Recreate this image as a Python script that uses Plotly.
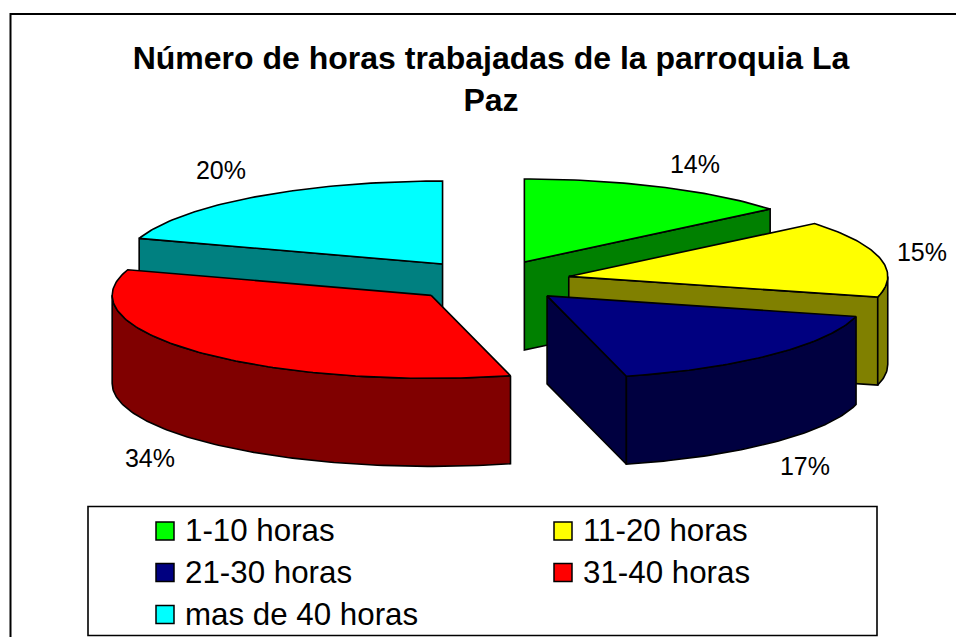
import math
import plotly.graph_objects as go

# ---- data ----
categories = ["1-10 horas", "11-20 horas", "21-30 horas", "31-40 horas", "mas de 40 horas"]
percentages = [14, 15, 17, 34, 20]
title_text = "Número de horas trabajadas de la parroquia La<br>Paz"

# ---- style ----
top_colors = ["#00FF00", "#FFFF00", "#000080", "#FF0000", "#00FFFF"]
wall_colors = ["#008000", "#808000", "#000040", "#800000", "#008080"]
draw_order = [4, 0, 1, 2, 3]
FONT = "Liberation Sans, Arial, sans-serif"

# ---- projection of the tilted pie on to the page ----
CX, CY = 490.0, 281.0
RX, RY = 319.0, 83.0
DEPTH = 88.0
EXPLODE = 0.253
label_xy = [(695, 167), (922, 255), (805, 469), (150, 461), (221, 173)]
legend_xy = [(165, 531), (563, 531), (165, 572.5), (563, 572.5), (165, 614.5)]
TEXT_GAP = 20
TEXT_DROP = 2.5


def rim(apex, deg):
    t = math.radians(deg)
    return apex[0] + RX * math.sin(t), apex[1] - RY * math.cos(t)


def arc(apex, a0, a1):
    n = max(2, int(abs(a1 - a0)) + 1)
    return [rim(apex, a0 + (a1 - a0) * i / (n - 1)) for i in range(n)]


def add_poly(fig, pts, color, name):
    xs = [p[0] for p in pts] + [pts[0][0]]
    ys = [p[1] for p in pts] + [pts[0][1]]
    fig.add_trace(go.Scatter(x=xs, y=ys, mode="lines", fill="toself", fillcolor=color,
                             line=dict(color="black", width=1.6), name=name,
                             hoverinfo="name", showlegend=False))


def add_radial_wall(fig, apex, deg, color, name):
    p = rim(apex, deg)
    add_poly(fig, [apex, p, (p[0], p[1] + DEPTH), (apex[0], apex[1] + DEPTH)], color, name)


fig = go.Figure()
total = sum(percentages)
bounds = [0.0]
for val in percentages:
    bounds.append(bounds[-1] + 360.0 * val / total)

for i in draw_order:
    cat = categories[i]
    a0, a1 = bounds[i], bounds[i + 1]
    mid = math.radians((a0 + a1) / 2)
    apex = (CX + EXPLODE * RX * math.sin(mid), CY - EXPLODE * RY * math.cos(mid))
    # walls that face the viewer
    if math.sin(math.radians(a0)) < -1e-9:
        add_radial_wall(fig, apex, a0, wall_colors[i], cat)
    if math.sin(math.radians(a1)) > 1e-9:
        add_radial_wall(fig, apex, a1, wall_colors[i], cat)
    lo, hi = max(a0, 90.0), min(a1, 270.0)
    if hi > lo:
        edge = arc(apex, lo, hi)
        add_poly(fig, edge + [(x, y + DEPTH) for x, y in reversed(edge)], wall_colors[i], cat)
    # top face
    add_poly(fig, [apex] + arc(apex, a0, a1), top_colors[i], cat)

# percentage labels
fig.add_trace(go.Scatter(x=[p[0] for p in label_xy], y=[p[1] for p in label_xy], mode="text",
                         text=[f"{v}%" for v in percentages], textposition="middle center",
                         textfont=dict(family=FONT, size=25, color="black"),
                         hoverinfo="skip", showlegend=False))

# legend entries
fig.add_trace(go.Scatter(x=[p[0] for p in legend_xy], y=[p[1] for p in legend_xy], mode="markers",
                         marker=dict(symbol="square", size=18, color=top_colors,
                                     line=dict(color="black", width=1.5)),
                         hoverinfo="skip", showlegend=False))
fig.add_trace(go.Scatter(x=[p[0] + TEXT_GAP for p in legend_xy], y=[p[1] + TEXT_DROP for p in legend_xy],
                         mode="text", text=categories, textposition="middle right",
                         textfont=dict(family=FONT, size=31.3, color="black"),
                         hoverinfo="skip", showlegend=False))

fig.update_layout(
    width=956, height=637, autosize=False,
    margin=dict(l=0, r=0, t=0, b=0),
    paper_bgcolor="white", plot_bgcolor="white",
    title=dict(text=title_text, x=491 / 956, xanchor="center", y=1 - 69 / 637, yanchor="top",
               font=dict(family=FONT, size=32, color="black", weight="bold")),
    xaxis=dict(range=[0, 956], visible=False, fixedrange=True),
    yaxis=dict(range=[637, 0], visible=False, fixedrange=True),
    shapes=[
        dict(type="rect", x0=10.5, y0=14, x1=1000, y1=700, line=dict(color="black", width=2),
             fillcolor="rgba(0,0,0,0)", layer="below"),
        dict(type="rect", x0=88, y0=506.5, x1=877, y1=635.5, line=dict(color="black", width=1.6),
             fillcolor="white", layer="below"),
    ],
)

fig.write_html("out.html", config={"displayModeBar": False},
               post_script="document.body.style.margin='0';document.documentElement.style.overflow='hidden';")
